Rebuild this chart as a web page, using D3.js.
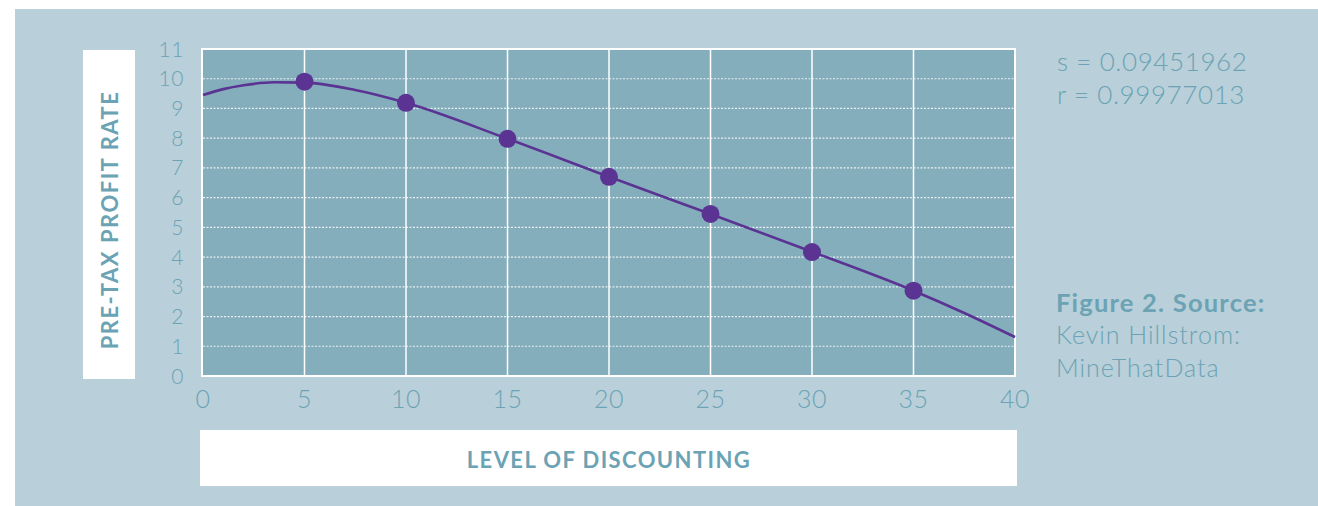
<!DOCTYPE html>
<html>
<head>
<meta charset="utf-8">
<script src="https://cdn.jsdelivr.net/npm/d3@7"></script>
<style>
  body { margin: 0; background: #fff; }
  text { font-family: Lato, "Open Sans", sans-serif; }
</style>
</head>
<body>
<div id="chart"></div>
<script>
// observed points (level of discounting vs pre-tax profit rate)
var discountLevels = [5, 10, 15, 20, 25, 30, 35];
var profitRates = [9.9, 9.19, 7.98, 6.70, 5.45, 4.17, 2.87];

// fitted curve
var fitX = [0, 1, 2, 3.5, 5, 7.5, 10, 15, 20, 25, 30, 35, 37.5, 40];
var fitY = [9.45, 9.65, 9.78, 9.88, 9.87, 9.62, 9.19, 7.98, 6.70, 5.45, 4.18, 2.87, 2.12, 1.31];

var xTicks = [0, 5, 10, 15, 20, 25, 30, 35, 40];
var yTicks = [0, 1, 2, 3, 4, 5, 6, 7, 8, 9, 10, 11];

var statLines = ['s = 0.09451962', 'r = 0.99977013'];
var sourceTitle = 'Figure 2. Source:';
var sourceLines = ['Kevin Hillstrom:', 'MineThatData'];

var width = 1318, height = 506,
    textCol = '#6ba3b4',
    plotFill = '#84aebb',
    bgFill = '#b9cfd9',
    purple = '#5a3393';

var svg = d3.select('#chart').append('svg')
    .attr('width', width)
    .attr('height', height);

svg.append('rect')
    .attr('x', 15).attr('y', 9)
    .attr('width', width - 15).attr('height', height - 9)
    .style('fill', bgFill);

var x = d3.scaleLinear().domain([0, 40]).range([203, 1015]);
var y = d3.scaleLinear().domain([0, 11]).range([376, 49]);

// plot area
svg.append('rect')
    .attr('x', x(0) - 1).attr('y', y(11))
    .attr('width', x(40) - x(0) + 1).attr('height', y(0) - y(11))
    .style('fill', plotFill)
    .style('stroke', '#fff')
    .style('stroke-width', 2);

// horizontal dotted grid
svg.append('g').selectAll('line')
    .data(yTicks.filter(function(d){ return d > 0 && d < 11; }))
    .enter().append('line')
    .attr('x1', x(0)).attr('x2', x(40))
    .attr('y1', function(d){ return y(d); })
    .attr('y2', function(d){ return y(d); })
    .style('stroke', '#e8f0f3')
    .style('stroke-width', 1.2)
    .style('stroke-dasharray', '2,1.5');

// vertical grid
svg.append('g').selectAll('line')
    .data(xTicks.filter(function(d){ return d > 0 && d < 40; }))
    .enter().append('line')
    .attr('x1', function(d){ return x(d); })
    .attr('x2', function(d){ return x(d); })
    .attr('y1', y(11)).attr('y2', y(0))
    .style('stroke', '#fff')
    .style('stroke-width', 1.5);

// tick labels
svg.append('g').selectAll('text')
    .data(yTicks).enter().append('text')
    .attr('x', 184)
    .attr('y', function(d){ return y(d); })
    .attr('dy', '0.36em')
    .attr('text-anchor', 'end')
    .style('font-size', '21px')
    .style('font-weight', 300)
    .style('letter-spacing', '0.6px')
    .style('fill', textCol)
    .text(function(d){ return d; });

svg.append('g').selectAll('text')
    .data(xTicks).enter().append('text')
    .attr('x', function(d){ return x(d); })
    .attr('y', 408)
    .attr('text-anchor', 'middle')
    .style('font-size', '25px')
    .style('font-weight', 300)
    .style('letter-spacing', '0.6px')
    .style('fill', textCol)
    .text(function(d){ return d; });

// fitted curve
var fitData = fitX.map(function(d, i){ return [d, fitY[i]]; });
svg.append('path')
    .datum(fitData)
    .attr('d', d3.line()
        .x(function(d){ return x(d[0]); })
        .y(function(d){ return y(d[1]); })
        .curve(d3.curveMonotoneX))
    .style('fill', 'none')
    .style('stroke', purple)
    .style('stroke-width', 2.6);

// points
svg.append('g').selectAll('circle')
    .data(discountLevels).enter().append('circle')
    .attr('cx', function(d){ return x(d); })
    .attr('cy', function(d, i){ return y(profitRates[i]); })
    .attr('r', 9)
    .style('fill', purple);

// axis title boxes
svg.append('rect')
    .attr('x', 83).attr('y', 50).attr('width', 52).attr('height', 329)
    .style('fill', '#fff');
svg.append('text')
    .attr('transform', 'translate(117.5,' + 220 + ') rotate(-90)')
    .attr('text-anchor', 'middle')
    .style('font-size', '22px')
    .style('font-weight', 700)
    .style('letter-spacing', '1.5px')
    .style('fill', textCol)
    .text('PRE-TAX PROFIT RATE');

svg.append('rect')
    .attr('x', 200).attr('y', 430).attr('width', 817).attr('height', 56)
    .style('fill', '#fff');
svg.append('text')
    .attr('x', 609).attr('y', 468)
    .attr('text-anchor', 'middle')
    .style('font-size', '22px')
    .style('font-weight', 700)
    .style('letter-spacing', '1.4px')
    .style('fill', textCol)
    .text('LEVEL OF DISCOUNTING');

// side notes
svg.append('g').selectAll('text')
    .data(statLines).enter().append('text')
    .attr('x', 1057)
    .attr('y', function(d, i){ return 71 + i * 33; })
    .style('font-size', '26px')
    .style('font-weight', 300)
    .style('letter-spacing', '0.6px')
    .style('fill', textCol)
    .text(function(d){ return d; });

svg.append('text')
    .attr('x', 1056).attr('y', 312)
    .style('font-size', '25.5px')
    .style('font-weight', 700)
    .style('letter-spacing', '1.2px')
    .style('fill', textCol)
    .text(sourceTitle);

svg.append('g').selectAll('text')
    .data(sourceLines).enter().append('text')
    .attr('x', 1056)
    .attr('y', function(d, i){ return 344 + i * 32.5; })
    .style('font-size', '25px')
    .style('font-weight', 300)
    .style('letter-spacing', '1px')
    .style('fill', textCol)
    .text(function(d){ return d; });
</script>
</body>
</html>
